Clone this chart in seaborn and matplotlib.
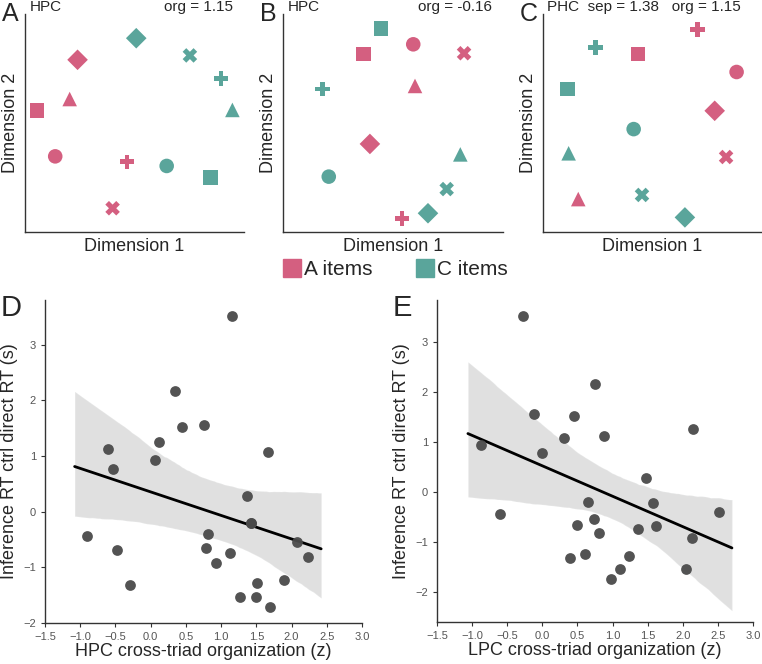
import numpy as np
import pandas as pd
import matplotlib.pyplot as plt
import seaborn as sns
from matplotlib.lines import Line2D

# ---- MDS panels (A-C), positions as fraction of the plotted space ----
shapes = ["square", "circle", "triangle", "diamond", "plus", "x"]

a_hpc_A_x = [0.055, 0.138, 0.204, 0.240, 0.466, 0.400]
a_hpc_A_y = [0.558, 0.347, 0.610, 0.790, 0.322, 0.109]
a_hpc_C_x = [0.846, 0.647, 0.947, 0.508, 0.895, 0.753]
a_hpc_C_y = [0.249, 0.303, 0.560, 0.889, 0.705, 0.810]

b_hpc_A_x = [0.365, 0.592, 0.600, 0.395, 0.541, 0.823]
b_hpc_A_y = [0.817, 0.861, 0.670, 0.404, 0.063, 0.820]
b_hpc_C_x = [0.445, 0.208, 0.806, 0.659, 0.179, 0.744]
b_hpc_C_y = [0.933, 0.254, 0.356, 0.086, 0.656, 0.197]

c_phc_A_x = [0.434, 0.884, 0.161, 0.784, 0.705, 0.836]
c_phc_A_y = [0.817, 0.734, 0.151, 0.556, 0.930, 0.344]
c_phc_C_x = [0.113, 0.414, 0.117, 0.648, 0.240, 0.452]
c_phc_C_y = [0.656, 0.472, 0.361, 0.067, 0.847, 0.170]

mds_panels = [
    ("A", "HPC", "org = 1.15", a_hpc_A_x, a_hpc_A_y, a_hpc_C_x, a_hpc_C_y),
    ("B", "HPC", "org = -0.16", b_hpc_A_x, b_hpc_A_y, b_hpc_C_x, b_hpc_C_y),
    ("C", "PHC  sep = 1.38   org = 1.15", "", c_phc_A_x, c_phc_A_y, c_phc_C_x, c_phc_C_y),
]

# ---- brain-behaviour panels (D, E) ----
hpc_org = [1.16, 0.34, 0.45, 0.75, 0.12, -0.60, 0.06, -0.54, 1.67, 1.37, 1.43, 1.42, -0.91,
           -0.48, -0.29, 0.81, 0.78, 0.93, 1.12, 2.07, 2.24, 1.89, 1.51, 1.27, 1.50, 1.69]
hpc_rt = [3.51, 2.17, 1.52, 1.56, 1.26, 1.13, 0.93, 0.77, 1.08, 0.28, -0.21, -0.20, -0.44,
          -0.68, -1.31, -0.40, -0.65, -0.92, -0.74, -0.54, -0.81, -1.22, -1.28, -1.53, -1.53, -1.72]

lpc_org = [-0.28, 0.75, -0.12, 0.45, 2.15, 0.31, 0.88, -0.87, 0.00, 1.47, 0.65, 1.58, -0.61,
           2.52, 0.49, 0.73, 0.81, 1.36, 1.62, 2.13, 0.40, 0.61, 1.24, 1.10, 2.04, 0.98]
lpc_rt = [3.52, 2.17, 1.56, 1.52, 1.26, 1.09, 1.13, 0.94, 0.78, 0.29, -0.20, -0.21, -0.43,
          -0.39, -0.65, -0.54, -0.81, -0.73, -0.68, -0.92, -1.31, -1.23, -1.28, -1.53, -1.53, -1.73]

pink = "#d45f80"
teal = "#5aa59b"
marker_map = {"square": "s", "circle": "o", "triangle": "^", "diamond": "D", "plus": "P", "x": "X"}

sns.set_style("ticks")
plt.rcParams["font.family"] = ["Liberation Sans", "DejaVu Sans"]
plt.rcParams["axes.edgecolor"] = "#333333"
plt.rcParams["axes.linewidth"] = 1.0

fig = plt.figure(figsize=(7.62, 6.64), dpi=100)

# top row axes positions
top_boxes = [(0.0328, 0.6506, 0.2874, 0.3283),
             (0.3714, 0.6506, 0.2887, 0.3283),
             (0.7126, 0.6506, 0.2874, 0.3283)]

for box, (letter, left_txt, right_txt, ax_, ay_, cx_, cy_) in zip(top_boxes, mds_panels):
    ax = fig.add_axes(box)
    df = pd.DataFrame({
        "x": ax_ + cx_,
        "y": ay_ + cy_,
        "group": ["A"] * 6 + ["C"] * 6,
        "shape": shapes + shapes,
    })
    sns.scatterplot(data=df, x="x", y="y", hue="group", style="shape",
                    palette={"A": pink, "C": teal}, markers=marker_map,
                    s=110, linewidth=0, legend=False, ax=ax)
    ax.set_xlim(0, 1)
    ax.set_ylim(0, 1)
    ax.set_xticks([])
    ax.set_yticks([])
    ax.set_xlabel("Dimension 1", fontsize=13, labelpad=4)
    ax.set_ylabel("Dimension 2", fontsize=13, labelpad=4)
    sns.despine(ax=ax)
    ax.text(0.02, 1.0, left_txt, transform=ax.transAxes, fontsize=11, ha="left", va="bottom")
    if right_txt:
        ax.text(0.95, 1.0, right_txt, transform=ax.transAxes, fontsize=11, ha="right", va="bottom")
    ax.text(-0.105, 1.0, letter, transform=ax.transAxes, fontsize=18, ha="left", va="center")

handles = [Line2D([], [], marker="s", color=pink, linestyle="", markersize=13),
           Line2D([], [], marker="s", color=teal, linestyle="", markersize=13)]
fig.legend(handles, ["A items", "C items"], loc="center", bbox_to_anchor=(0.518, 0.594),
           ncol=2, frameon=False, fontsize=15, handletextpad=0.1, columnspacing=2.0,
           handlelength=1.0)

# bottom row
bottom = [
    ("D", (0.0591, 0.0617, 0.416, 0.4864), hpc_org, hpc_rt, "HPC cross-triad organization (z)",
     (-1.08, 2.42), (-2, 3.8), [-2, -1, 0, 1, 2, 3]),
    ("E", (0.5735, 0.0633, 0.4147, 0.4849), lpc_org, lpc_rt, "LPC cross-triad organization (z)",
     (-1.06, 2.70), (-2.6, 3.85), [-2, -1, 0, 1, 2, 3]),
]

for letter, box, xs, ys, xlabel, fit_range, ylim, yticks in bottom:
    ax = fig.add_axes(box)
    ax.set_xlim(*fit_range)
    # band colour comes from `color`; the fit line is recoloured black afterwards
    sns.regplot(x=np.array(xs), y=np.array(ys), ax=ax, scatter=False, truncate=False,
                color="#303333", n_boot=2000, seed=3, line_kws={"linewidth": 2})
    ax.lines[-1].set_color("black")
    sns.scatterplot(x=xs, y=ys, ax=ax, color="#4a4a4a", s=60, linewidth=0, alpha=0.95, zorder=3)
    ax.set_xlim(-1.5, 3.0)
    ax.set_ylim(*ylim)
    ax.set_xticks(np.arange(-1.5, 3.01, 0.5))
    ax.set_yticks(yticks)
    ax.tick_params(labelsize=8, colors="#555555", length=3, width=0.8)
    ax.tick_params(axis="both", color="#333333")
    ax.set_xlabel(xlabel, fontsize=13, labelpad=1)
    ax.set_ylabel("Inference RT ctrl direct RT (s)", fontsize=13)
    ax.yaxis.set_label_coords(-0.085, 0.5)
    sns.despine(ax=ax)
    ax.text(-0.14, 0.975, letter, transform=ax.transAxes, fontsize=21, ha="left", va="center")

fig.savefig("out.png", dpi=100)
